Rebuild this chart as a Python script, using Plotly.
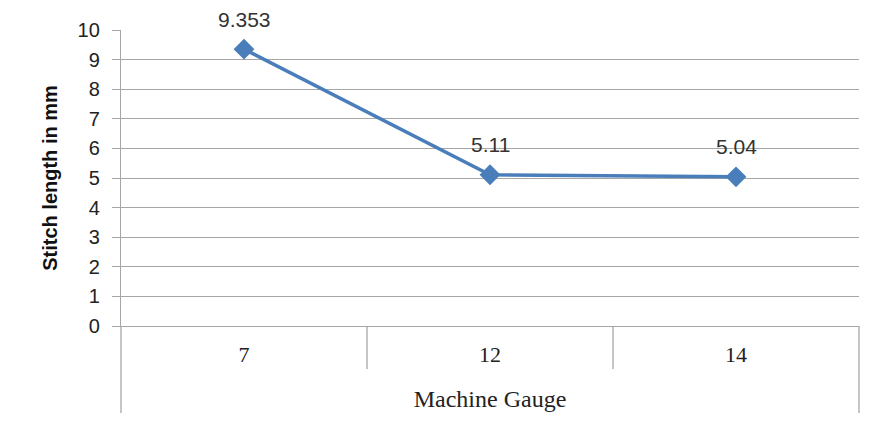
import plotly.graph_objects as go

# data
gauges = ["7", "12", "14"]
stitch_length = [9.353, 5.11, 5.04]
value_labels = ["9.353", "5.11", "5.04"]
y_ticks = list(range(0, 11))

LINE_BLUE = "#4A7EBB"
GRID = "#A6A6A6"
SANS = "Liberation Sans, Arial, sans-serif"
SERIF = "Liberation Serif, Times New Roman, serif"

xs = list(range(len(gauges)))

fig = go.Figure()
fig.add_trace(
    go.Scatter(
        x=xs,
        y=stitch_length,
        mode="lines+markers",
        line=dict(color=LINE_BLUE, width=3.5),
        marker=dict(symbol="diamond", size=16, color=LINE_BLUE),
        cliponaxis=False,
        showlegend=False,
    )
)

# value labels above the points
for x, y, lab in zip(xs, stitch_length, value_labels):
    fig.add_annotation(
        x=x, y=y, text=lab, showarrow=False, yshift=30,
        font=dict(family=SANS, size=21, color="#333333"),
    )

# category table under the plot: dividers between gauges and outer edges
n = len(gauges)
shapes = []
for i in range(1, n):
    shapes.append(dict(type="line", xref="paper", yref="paper",
                       x0=i / n, x1=i / n, y0=0, y1=-0.145,
                       line=dict(color=GRID, width=1.3)))
for edge in (0, 1):
    shapes.append(dict(type="line", xref="paper", yref="paper",
                       x0=edge, x1=edge, y0=0, y1=-0.294,
                       line=dict(color=GRID, width=1.3)))

# the page body adds an 8px margin, so the figure is sized to fit inside it
fig.update_layout(
    width=869,
    height=414,
    margin=dict(l=113, r=18, t=22, b=96),
    paper_bgcolor="white",
    plot_bgcolor="white",
    shapes=shapes,
    xaxis=dict(
        range=[-0.5, n - 0.5],
        tickmode="array",
        tickvals=xs,
        ticktext=gauges,
        ticks="outside",
        ticklen=8,
        tickcolor="rgba(0,0,0,0)",
        showgrid=False,
        zeroline=False,
        showline=True,
        linecolor=GRID,
        linewidth=1.3,
        tickfont=dict(family=SERIF, size=22, color="#222222"),
        title=dict(text="Machine Gauge", standoff=24,
                   font=dict(family=SERIF, size=24, color="#222222")),
    ),
    yaxis=dict(
        range=[0, 10],
        tickmode="array",
        tickvals=y_ticks,
        ticks="outside",
        ticklen=8,
        ticklabelstandoff=8,
        tickcolor=GRID,
        showgrid=True,
        gridcolor=GRID,
        gridwidth=1.3,
        zeroline=False,
        showline=True,
        linecolor=GRID,
        linewidth=1.3,
        tickfont=dict(family=SANS, size=20, color="#222222"),
        title=dict(text="<b>Stitch length in mm</b>", standoff=14,
                   font=dict(family=SANS, size=20, color="#111111")),
    ),
)

fig.write_html("out.html")
